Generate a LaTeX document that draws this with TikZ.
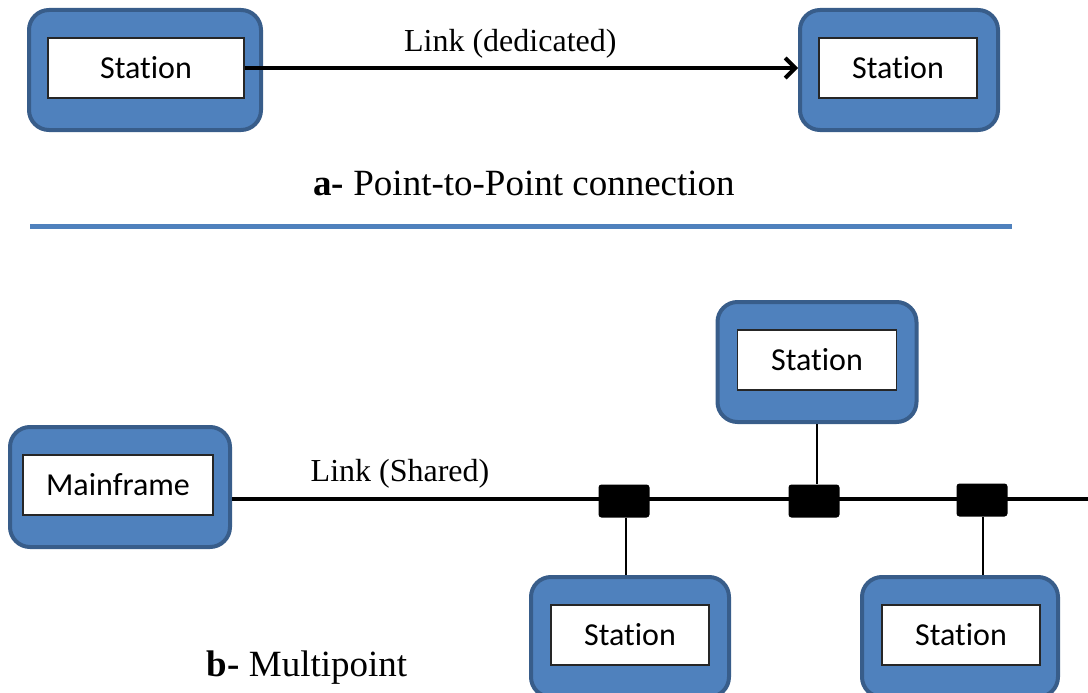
\documentclass[tikz,border=0pt]{standalone}
\usepackage{fontspec}
\setmainfont{Liberation Serif}
\newfontfamily\boxfont[Ligatures=NoCommon]{Carlito}
\usepackage{xcolor}
\usepackage{tikz}
\usetikzlibrary{arrows.meta,calc,positioning}

\definecolor{boxblue}{HTML}{4F81BD}
\definecolor{boxedge}{HTML}{385D8A}

\begin{document}
\begin{tikzpicture}[x=1pt,y=-1pt,
    station/.style={draw=boxedge,line width=4pt,fill=boxblue,rounded corners=20pt,
      minimum height=120pt,inner sep=0pt},
    label/.style={draw=black!85,line width=1.2pt,fill=white,minimum height=60pt,
      inner sep=0pt,font=\boxfont\fontsize{32}{38}\selectfont},
    tap/.style={fill=black,rounded corners=3pt,minimum width=51pt,minimum height=33pt,inner sep=0pt},
    linktext/.style={font=\fontsize{32}{38}\selectfont},
    caption/.style={font=\fontsize{37}{44}\selectfont}]
\clip (0,0) rectangle (1088,693);
\useasboundingbox (0,0) rectangle (1088,693);

% a- point to point
\node [station,minimum width=232pt] (st1) at (145,70) {};
\node [label,minimum width=196pt] (st1in) at (146,68) {Station};
\node [station,minimum width=198pt] (st2) at (899,70) {};
\node [label,minimum width=158pt] (st2in) at (898,68) {Station};
\draw [line width=4pt,-{Straight Barb[length=10pt,width=20pt]}] (st1in.east) -- (st1in.east -| st2.west)
  node [midway,above=4pt,xshift=-11pt,linktext] {Link (dedicated)};
\node [caption] (capa) at (524,183) {\textbf{a-} Point-to-Point connection};

\draw [boxblue,line width=5pt] (30,226) coordinate (sepl) -- (1012,226) coordinate (sepr);

% b- multipoint
\node [station,minimum width=220pt] (mf) at (120,487) {};
\node [label,minimum width=190pt] (mfin) at (118,485) {Mainframe};
\node [station,minimum width=199pt] (st3) at (817,362) {};
\node [label,minimum width=159pt] (st3in) at (817,360) {Station};
\node [station,minimum width=198pt] (st4) at (630,637) {};
\node [label,minimum width=158pt] (st4in) at (630,635) {Station};
\node [station,minimum width=196pt] (st5) at (960,637) {};
\node [label,minimum width=158pt] (st5in) at (961,635) {Station};

\coordinate (busend) at (1090,499);
\draw [line width=4pt] (mf.east |- busend) -- (busend);
\node [linktext] (shared) at (400,474) {Link (Shared)};

\node [tap] (tap1) at (624,501) {};
\node [tap] (tap2) at (814,501) {};
\node [tap] (tap3) at (982,500) {};
\draw [line width=1.5pt] ([xshift=2pt]tap1.south) -- ([xshift=2pt]tap1.south |- st4.north);
\draw [line width=1.5pt] (st3.south) -- (st3.south |- tap2.north);
\draw [line width=1.5pt] ([xshift=1pt]tap3.south) -- ([xshift=1pt]tap3.south |- st5.north);

\node [caption] (capb) at (307,668) {\textbf{b-} Multipoint};
\end{tikzpicture}
\end{document}
